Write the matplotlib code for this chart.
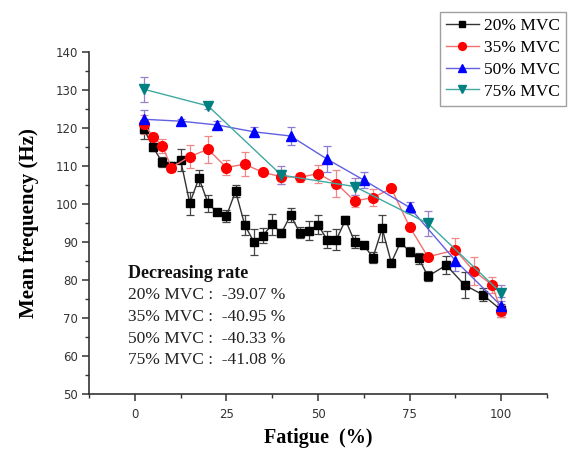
import numpy as np
import matplotlib
matplotlib.use("Agg")
import matplotlib.pyplot as plt
from matplotlib.ticker import MultipleLocator

# 20% MVC
x20 = [2.5, 5, 7.5, 10, 12.5, 15, 17.5, 20, 22.5, 25, 27.5, 30, 32.5, 35, 37.5, 40,
       42.5, 45, 47.5, 50, 52.5, 55, 57.5, 60, 62.5, 65, 67.5, 70, 72.5, 75, 77.5,
       80, 85, 90, 95, 100]
y20 = [119.7, 114.9, 111.0, 110.0, 111.6, 100.2, 106.8, 100.2, 97.8, 96.8, 103.4, 94.5,
       90.0, 91.7, 94.7, 92.3, 97.1, 92.5, 93.0, 94.5, 90.6, 90.6, 95.8, 90.1, 89.2,
       85.9, 93.6, 84.6, 89.9, 87.5, 85.7, 81.0, 83.9, 78.7, 76.1, 72.1]
e20 = [2.5, 1.0, 1.3, 1.0, 2.8, 3.0, 2.1, 2.3, 0.8, 1.5, 1.5, 2.6, 3.3, 2.0, 2.8, 1.0,
       1.75, 1.4, 2.5, 2.5, 2.2, 2.8, 1.0, 1.8, 0.8, 1.5, 3.5, 1.0, 1.0, 1.3, 1.5,
       1.3, 2.4, 3.4, 1.7, 1.7]

# 35% MVC
x35 = [2.5, 5, 7.5, 10, 15, 20, 25, 30, 35, 40, 45, 50, 55, 60, 65, 70, 75, 80,
       87.5, 92.5, 97.5, 100]
y35 = [121.0, 117.7, 115.3, 109.6, 112.5, 114.4, 109.6, 110.5, 108.3, 107.2, 107.0,
       108.0, 105.4, 100.8, 101.7, 104.1, 94.0, 86.1, 87.9, 82.4, 78.7, 71.8]
e35 = [2.5, 1.0, 1.9, 1.3, 3.1, 3.5, 2.0, 3.1, 0.5, 1.8, 1.1, 2.4, 3.5, 1.5, 2.2,
       0.5, 0.5, 0.5, 3.1, 3.7, 2.1, 1.5]

# 50% MVC
x50 = [2.5, 12.5, 22.5, 32.5, 42.5, 52.5, 62.5, 75, 87.5, 100]
y50 = [122.3, 121.8, 120.8, 119.0, 117.9, 111.8, 106.3, 99.1, 85.1, 73.2]
e50 = [2.5, 0.5, 1.1, 1.2, 2.4, 3.5, 2.0, 1.5, 2.6, 2.4]

# 75% MVC
x75 = [2.5, 20, 40, 60, 80, 100]
y75 = [130.2, 125.8, 107.6, 104.6, 94.9, 76.6]
e75 = [3.3, 0.8, 2.4, 2.2, 3.3, 2.1]

rate_labels = ["20% MVC", "35% MVC", "50% MVC", "75% MVC"]
rate_values = [-39.07, -40.95, -40.33, -41.08]

serif = ["Liberation Serif", "DejaVu Serif"]

fig = plt.figure(figsize=(5.72, 4.5), dpi=100)
ax = fig.add_axes([0.1556, 0.1244, 0.8007, 0.76])

series = [
    (x20, y20, e20, "s", "black", "#333333", "#444444", 6.0, "20% MVC"),
    (x35, y35, e35, "o", "#ff0000", "#f07070", "#f08888", 7.0, "35% MVC"),
    (x50, y50, e50, "^", "#0000ff", "#6060e0", "#8a7ad8", 7.0, "50% MVC"),
    (x75, y75, e75, "v", "#008080", "#40a8a0", "#9a80c8", 7.0, "75% MVC"),
]

handles = []
for xs, ys, es, mk, mc, lc, ec, ms, lab in series:
    ax.errorbar(xs, ys, yerr=es, fmt="none", ecolor=ec, elinewidth=0.9,
                capsize=3, capthick=0.9, zorder=2)
    h, = ax.plot(xs, ys, color=lc, lw=1.0, marker=mk, ms=ms, mfc=mc, mec=mc,
                 label=lab, zorder=3)
    handles.append(h)

ax.set_xlim(-12.5, 112.5)
ax.set_ylim(50, 140)
ax.xaxis.set_major_locator(MultipleLocator(25))
ax.xaxis.set_minor_locator(MultipleLocator(12.5))
ax.yaxis.set_major_locator(MultipleLocator(10))
ax.yaxis.set_minor_locator(MultipleLocator(5))

for s in ["top", "right"]:
    ax.spines[s].set_visible(False)
for s in ["left", "bottom"]:
    ax.spines[s].set_color("#333333")
    ax.spines[s].set_linewidth(1.2)

ax.tick_params(which="major", direction="out", length=5, width=1.1,
               color="#333333", labelsize=8.5, labelcolor="#333333", pad=3)
ax.tick_params(which="minor", direction="out", length=3, width=1.0,
               color="#333333")
ax.tick_params(axis="x", which="major", pad=5)

ax.set_xlabel("Fatigue  (%)", family=serif, fontweight="bold", fontsize=14.5,
              labelpad=5)
ax.set_ylabel("Mean frequency (Hz)", family=serif, fontweight="bold",
              fontsize=15, labelpad=12)

# decreasing-rate annotation
ax.text(-1.8, 81.8, "Decreasing rate", family=serif, fontweight="bold",
        fontsize=13, va="center", ha="left", color="#111111")
for i, (lab, val) in enumerate(zip(rate_labels, rate_values)):
    ax.text(-1.8, 76.1 - i * 5.75, f"{lab} :  {val:.2f} %", family=serif,
            fontsize=12.5, va="center", ha="left", color="#222222")

leg = fig.legend(handles=handles, loc="upper right",
                 bbox_to_anchor=(0.9895, 0.973), borderaxespad=0,
                 prop={"family": serif, "size": 12.5}, frameon=True,
                 fancybox=False, edgecolor="#888888", handlelength=1.9,
                 handletextpad=0.3, labelspacing=0.32, borderpad=0.35,
                 markerscale=0.8)
leg.get_frame().set_linewidth(1.0)

fig.savefig("out.png", dpi=100)
